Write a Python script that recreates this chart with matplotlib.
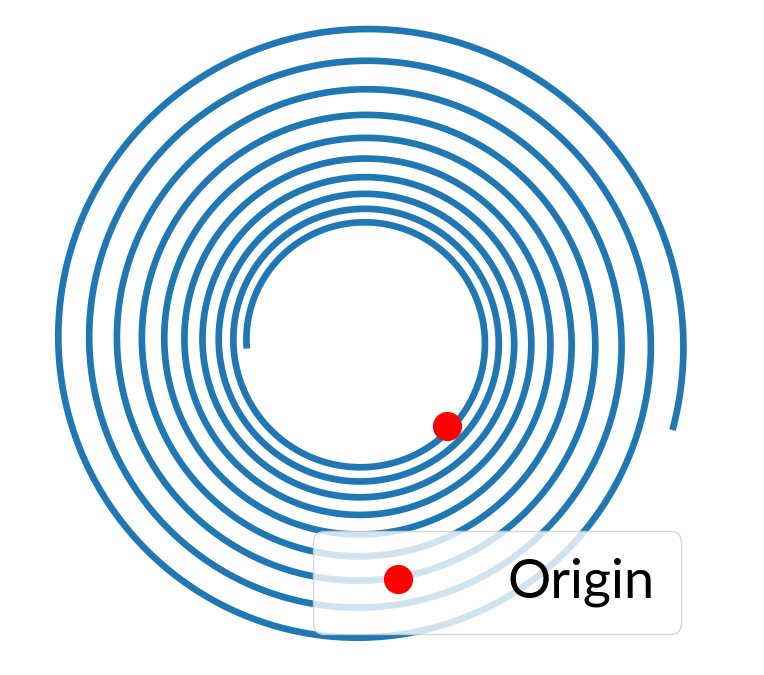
import numpy as np
import matplotlib
matplotlib.use("Agg")
import matplotlib.pyplot as plt

# --- values ---
spiral_center = (-1.0, 1.0)      # centre of the spiral, in data units
start_radius = 1.372             # radius at the inner end
growth_per_turn = 1.113          # radius ratio per full turn (log spiral)
n_turns = 9.554                  # number of turns drawn
start_angle_deg = 183.5          # angle of the inner end (winds clockwise)
origin_x = [0.0]
origin_y = [0.0]
origin_label = "Origin"

# --- build the curve ---
phi = np.linspace(0, 2 * np.pi * n_turns, 4000)
b = np.log(growth_per_turn) / (2 * np.pi)
r = start_radius * np.exp(b * phi)
theta = np.deg2rad(start_angle_deg) - phi
x = spiral_center[0] + r * np.cos(theta)
y = spiral_center[1] + r * np.sin(theta)

fig = plt.figure(figsize=(7.64, 6.75), dpi=100)
ax = fig.add_axes([0, 0, 1, 1])
ax.plot(x, y, color="#1f77b4", lw=4.8, solid_capstyle="butt", zorder=1)
ax.plot(origin_x, origin_y, "o", color="red", markersize=20, label=origin_label, zorder=2)

ax.set_xlim(-447 / 84.5, (764 - 447) / 84.5)
ax.set_ylim(-(675 - 426) / 84.5, 426 / 84.5)
ax.axis("off")

leg = ax.legend(loc="upper left", bbox_to_anchor=(313 / 764, 1 - 531 / 675),
                bbox_transform=fig.transFigure, borderaxespad=0,
                prop={"family": ["Lato", "DejaVu Sans"], "size": 39},
                handlelength=2.17, handletextpad=0.93, borderpad=0.49,
                numpoints=1, framealpha=0.8, edgecolor="0.8", fancybox=True)

fig.savefig("out.png", dpi=100)
